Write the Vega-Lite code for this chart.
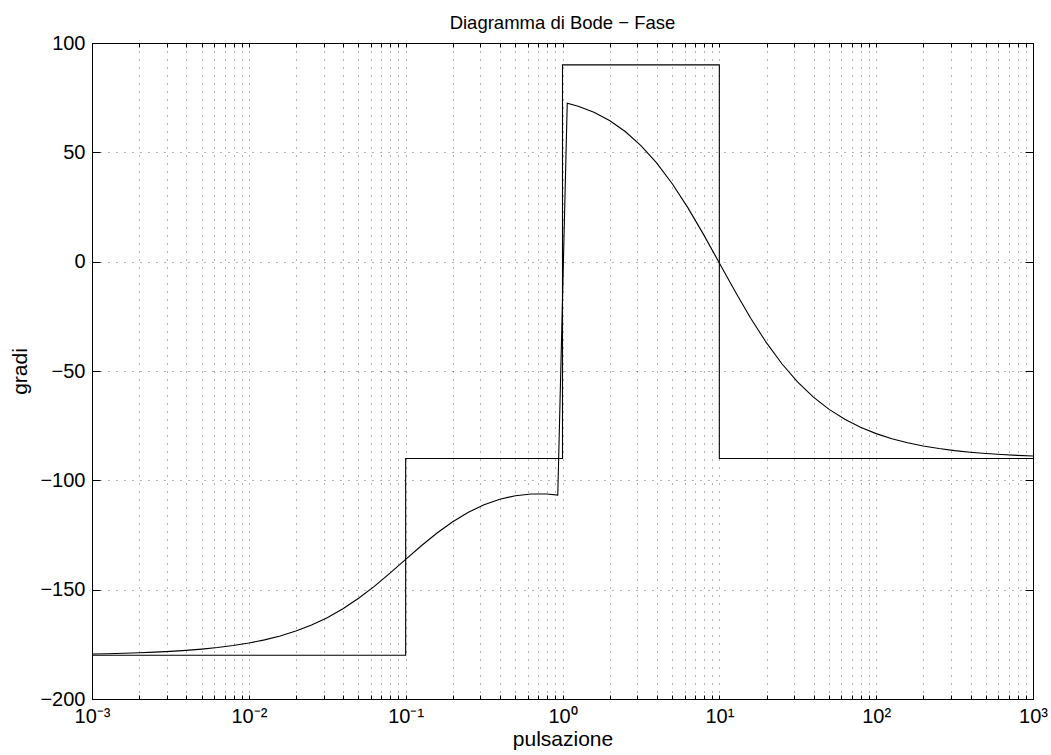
{
  "$schema": "https://vega.github.io/schema/vega-lite/v6.json",
  "width": 941,
  "height": 656,
  "autosize": {"type": "none"},
  "padding": {"left": 92, "top": 43, "right": 18, "bottom": 56},
  "background": "white",
  "title": {"text": "Diagramma di Bode − Fase", "font": "Liberation Sans", "fontSize": 18.5, "fontWeight": "normal", "color": "black", "offset": 1},
  "config": {
    "view": {"stroke": "black", "strokeWidth": 1},
    "font": "Liberation Sans"
  },
  "datasets": {
    "asym": [
      {"i": 0, "w": 0.001, "deg": -180},
      {"i": 1, "w": 0.1, "deg": -180},
      {"i": 2, "w": 0.1, "deg": -90},
      {"i": 3, "w": 1, "deg": -90},
      {"i": 4, "w": 1, "deg": 90},
      {"i": 5, "w": 10, "deg": 90},
      {"i": 6, "w": 10, "deg": -90},
      {"i": 7, "w": 1000, "deg": -90}
    ],
    "curve": [
      {"w": 0.001, "deg": -179.44},
      {"w": 0.001259, "deg": -179.29},
      {"w": 0.001585, "deg": -179.11},
      {"w": 0.001995, "deg": -178.88},
      {"w": 0.002512, "deg": -178.58},
      {"w": 0.003162, "deg": -178.22},
      {"w": 0.003981, "deg": -177.77},
      {"w": 0.005012, "deg": -177.19},
      {"w": 0.00631, "deg": -176.46},
      {"w": 0.007943, "deg": -175.55},
      {"w": 0.01, "deg": -174.4},
      {"w": 0.01259, "deg": -172.97},
      {"w": 0.01585, "deg": -171.18},
      {"w": 0.01995, "deg": -168.95},
      {"w": 0.02512, "deg": -166.19},
      {"w": 0.03162, "deg": -162.81},
      {"w": 0.03981, "deg": -158.75},
      {"w": 0.05012, "deg": -153.95},
      {"w": 0.0631, "deg": -148.47},
      {"w": 0.07943, "deg": -142.45},
      {"w": 0.1, "deg": -136.15},
      {"w": 0.1259, "deg": -129.9},
      {"w": 0.1585, "deg": -124.07},
      {"w": 0.1995, "deg": -118.91},
      {"w": 0.2512, "deg": -114.59},
      {"w": 0.3162, "deg": -111.17},
      {"w": 0.3981, "deg": -108.66},
      {"w": 0.5012, "deg": -107.02},
      {"w": 0.631, "deg": -106.22},
      {"w": 0.7943, "deg": -106.26},
      {"w": 0.933, "deg": -106.77},
      {"w": 1.072, "deg": 72.43},
      {"w": 1.259, "deg": 71.11},
      {"w": 1.585, "deg": 68.38},
      {"w": 1.995, "deg": 64.57},
      {"w": 2.512, "deg": 59.52},
      {"w": 3.162, "deg": 53.09},
      {"w": 3.981, "deg": 45.14},
      {"w": 5.012, "deg": 35.62},
      {"w": 6.31, "deg": 24.59},
      {"w": 7.943, "deg": 12.36},
      {"w": 10, "deg": -0.57},
      {"w": 12.59, "deg": -13.54},
      {"w": 15.85, "deg": -25.86},
      {"w": 19.95, "deg": -37.05},
      {"w": 25.12, "deg": -46.81},
      {"w": 31.62, "deg": -55.08},
      {"w": 39.81, "deg": -61.94},
      {"w": 50.12, "deg": -67.55},
      {"w": 63.1, "deg": -72.09},
      {"w": 79.43, "deg": -75.71},
      {"w": 100, "deg": -78.64},
      {"w": 125.9, "deg": -80.97},
      {"w": 158.5, "deg": -82.82},
      {"w": 199.5, "deg": -84.29},
      {"w": 251.2, "deg": -85.46},
      {"w": 316.2, "deg": -86.4},
      {"w": 398.1, "deg": -87.13},
      {"w": 501.2, "deg": -87.73},
      {"w": 631, "deg": -88.19},
      {"w": 794.3, "deg": -88.57},
      {"w": 1000, "deg": -88.87}
    ]
  },
  "layer": [
    {
      "data": {"name": "asym"},
      "mark": {"type": "line", "color": "black", "strokeWidth": 1.1, "interpolate": "linear"},
      "encoding": {
        "x": {
          "field": "w", "type": "quantitative",
          "scale": {"type": "log", "domain": [0.001, 1000], "nice": false},
          "axis": {
            "orient": "bottom",
            "title": "pulsazione",
            "titleFont": "Liberation Sans", "titleFontSize": 21, "titleFontWeight": "normal", "titleColor": "black", "titlePadding": 2,
            "values": [0.001, 0.002, 0.003, 0.004, 0.005, 0.006, 0.007, 0.008, 0.009,
                       0.01, 0.02, 0.03, 0.04, 0.05, 0.06, 0.07, 0.08, 0.09,
                       0.1, 0.2, 0.3, 0.4, 0.5, 0.6, 0.7, 0.8, 0.9,
                       1, 2, 3, 4, 5, 6, 7, 8, 9,
                       10, 20, 30, 40, 50, 60, 70, 80, 90,
                       100, 200, 300, 400, 500, 600, 700, 800, 900, 1000],
            "labelExpr": "abs(log(datum.value)/LN10 - round(log(datum.value)/LN10)) > 0.01 ? '' : ['10⁻³','10⁻²','10⁻¹','10⁰','10¹','10²','10³'][round(log(datum.value)/LN10)+3]",
            "labelFont": "Liberation Sans", "labelFontSize": 20, "labelColor": "black",
            "labelOverlap": false, "labelFlush": false, "labelPadding": 11,
            "tickSize": -4, "tickColor": "black", "tickWidth": 1,
            "domainColor": "black", "domainWidth": 1,
            "grid": true, "gridColor": "black", "gridOpacity": 0.6, "gridDash": [1, 7], "gridWidth": 1
          }
        },
        "y": {
          "field": "deg", "type": "quantitative",
          "scale": {"domain": [-200, 100], "nice": false, "zero": false},
          "axis": {
            "orient": "left",
            "title": "gradi",
            "titleFont": "Liberation Sans", "titleFontSize": 21, "titleFontWeight": "normal", "titleColor": "black", "titlePadding": 9,
            "values": [-200, -150, -100, -50, 0, 50, 100],
            "labelFont": "Liberation Sans", "labelFontSize": 20, "labelColor": "black",
            "labelOverlap": false, "labelFlush": false, "labelPadding": 15,
            "tickSize": -8, "tickColor": "black", "tickWidth": 1,
            "domainColor": "black", "domainWidth": 1,
            "grid": true, "gridColor": "black", "gridOpacity": 0.6, "gridDash": [1, 7], "gridWidth": 1
          }
        },
        "order": {"field": "i", "type": "quantitative"}
      }
    },
    {
      "data": {"name": "curve"},
      "mark": {"type": "line", "color": "black", "strokeWidth": 1.1, "interpolate": "linear"},
      "encoding": {
        "x": {
          "field": "w", "type": "quantitative",
          "axis": {
            "orient": "top", "title": null, "labels": false, "grid": false,
            "values": [0.001, 0.002, 0.003, 0.004, 0.005, 0.006, 0.007, 0.008, 0.009,
                       0.01, 0.02, 0.03, 0.04, 0.05, 0.06, 0.07, 0.08, 0.09,
                       0.1, 0.2, 0.3, 0.4, 0.5, 0.6, 0.7, 0.8, 0.9,
                       1, 2, 3, 4, 5, 6, 7, 8, 9,
                       10, 20, 30, 40, 50, 60, 70, 80, 90,
                       100, 200, 300, 400, 500, 600, 700, 800, 900, 1000],
            "tickSize": -4, "tickColor": "black", "domainColor": "black"
          }
        },
        "y": {
          "field": "deg", "type": "quantitative",
          "axis": {
            "orient": "right", "title": null, "labels": false, "grid": false,
            "values": [-200, -150, -100, -50, 0, 50, 100],
            "tickSize": -8, "tickColor": "black", "domainColor": "black"
          }
        }
      }
    }
  ],
  "resolve": {"axis": {"x": "independent", "y": "independent"}}
}
